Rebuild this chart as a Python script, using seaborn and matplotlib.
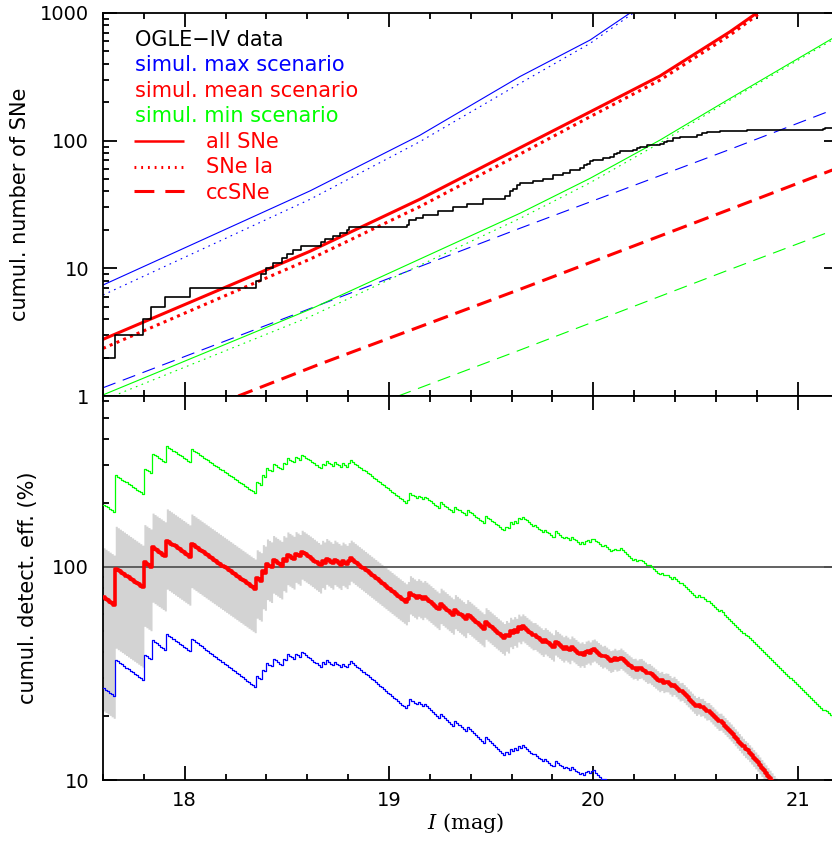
import numpy as np
import pandas as pd
import matplotlib
matplotlib.use("Agg")
import matplotlib.pyplot as plt
import seaborn as sns
from matplotlib.ticker import FixedLocator, NullFormatter, FuncFormatter, MultipleLocator

# ---- OGLE-IV data: cumulative number of SNe (magnitude of each step, count reached) ----
obs_mag = [17.50, 17.600, 17.66, 17.795, 17.835, 17.905, 18.025, 18.348, 18.375, 18.396,
           18.430, 18.478, 18.499, 18.532, 18.568, 18.665, 18.688, 18.727, 18.762, 18.795,
           18.802, 19.086, 19.099, 19.132, 19.168, 19.241, 19.315, 19.380, 19.462, 19.568,
           19.590, 19.609, 19.625, 19.641, 19.706, 19.755, 19.804, 19.853, 19.886, 19.935,
           19.955, 19.967, 19.985, 20.000, 20.049, 20.081, 20.100, 20.114, 20.130, 20.195,
           20.215, 20.228, 20.261, 20.326, 20.345, 20.359, 20.390, 20.424, 20.506, 20.530,
           20.555, 20.620, 20.750, 21.125, 21.135]
obs_n = [1, 2, 3, 4, 5, 6, 7, 8, 9, 10,
         11, 12, 13, 14, 15, 16, 17, 18, 19, 20,
         21, 22, 24, 25, 26, 28, 30, 32, 35, 37,
         40, 42, 45, 47, 48, 50, 54, 56, 59, 61,
         64, 66, 69, 71, 73, 75, 78, 80, 83, 85,
         88, 90, 92, 95, 98, 100, 104, 107, 111, 114,
         117, 120, 121, 123, 125]

# ---- simulated cumulative numbers ----
max_all_mag = [17.60, 18.613, 19.15, 19.641, 19.984, 20.18]
max_all_n = [7.4, 40.4, 110, 318, 614, 1000]
max_ia_mag = [17.60, 18.613, 19.15, 19.641, 19.984, 20.196]
max_ia_n = [6.18, 34.7, 98, 281, 578, 1000]
max_cc_mag = [17.60, 19.641, 20.669, 21.17]
max_cc_n = [1.16, 20.6, 85.5, 174]

mean_all_mag = [17.60, 18.613, 19.15, 19.641, 19.984, 20.326, 20.669, 20.80, 20.90]
mean_all_n = [2.78, 13.6, 34.7, 88, 168, 321, 713, 1000, 1330]
mean_ia_mag = [17.60, 18.613, 19.15, 19.641, 19.984, 20.326, 20.669, 20.816]
mean_ia_n = [2.36, 11.8, 30.4, 78.5, 154, 298, 671, 1000]
mean_cc_mag = [18.262, 18.662, 19.641, 20.669, 21.17]
mean_cc_n = [1.0, 1.78, 6.85, 29, 58.9]

min_all_mag = [17.60, 18.613, 19.641, 19.984, 20.326, 20.669, 21.17]
min_all_n = [1.02, 4.77, 27, 50.7, 101, 214, 632]
min_ia_mag = [17.65, 18.613, 19.641, 19.984, 20.326, 20.669, 21.17]
min_ia_n = [1.0, 4.18, 24.6, 46.8, 96, 208, 614]
min_cc_mag = [19.045, 19.641, 20.669, 21.17]
min_cc_n = [1.0, 2.29, 9.8, 19.7]

x_ticks = [18, 19, 20, 21]
top_yticks = [1, 10, 100, 1000]
bot_yticks = [10, 100]

BLUE, RED, GREEN = "#0000ff", "#ff0000", "#00ff00"
TXT = 15

sns.set_theme(style="ticks")
plt.rcParams.update({
    "font.family": ["DejaVu Sans"],
    "mathtext.fontset": "dejavuserif",
    "axes.edgecolor": "black",
    "axes.linewidth": 1.3,
    "xtick.color": "black",
    "ytick.color": "black",
    "axes.labelcolor": "black",
})

fig = plt.figure(figsize=(8.32, 8.44), dpi=100)
ax1 = fig.add_axes([0.1238, 0.5308, 0.8840, 0.4538])
ax2 = fig.add_axes([0.1238, 0.0758, 0.8840, 0.4550])

XMIN, XMAX = 17.6, 21.2
for ax in (ax1, ax2):
    ax.set_yscale("log")
    ax.set_xlim(XMIN, XMAX)

ax1.set_ylim(1, 1000)
ax2.set_ylim(10, 633)

# ---- top panel: cumulative numbers ----
thin_dot = (0, (1.5, 4.0))
thin_dash = (0, (12, 7))
thick_dot = (0, (1.0, 1.4))
thick_dash = (0, (5.0, 2.6))

curves = [
    (max_all_mag, max_all_n, BLUE, 0.8, "-"),
    (max_ia_mag, max_ia_n, BLUE, 0.8, thin_dot),
    (max_cc_mag, max_cc_n, BLUE, 0.8, thin_dash),
    (min_all_mag, min_all_n, GREEN, 0.8, "-"),
    (min_ia_mag, min_ia_n, GREEN, 0.8, thin_dot),
    (min_cc_mag, min_cc_n, GREEN, 0.8, thin_dash),
    (mean_all_mag, mean_all_n, RED, 2.2, "-"),
    (mean_ia_mag, mean_ia_n, RED, 2.2, thick_dot),
    (mean_cc_mag, mean_cc_n, RED, 2.2, thick_dash),
]
for mag, n, col, lw, ls in curves:
    sns.lineplot(x=mag, y=n, ax=ax1, color=col, lw=lw, linestyle=ls,
                 estimator=None, sort=False)

obs_df = pd.DataFrame({"mag": obs_mag + [XMAX], "n": obs_n + [obs_n[-1]]})
sns.lineplot(data=obs_df, x="mag", y="n", ax=ax1, color="black", lw=1.2,
             drawstyle="steps-post", estimator=None, sort=False)

# legend block
tx = 0.0435
for y, s, c in [(0.9146, "OGLE\u2212IV data", "black"),
                (0.8493, "simul. max scenario", BLUE),
                (0.7807, "simul. mean scenario", RED),
                (0.7146, "simul. min scenario", GREEN)]:
    ax1.text(tx, y, s, color=c, fontsize=TXT, va="baseline", ha="left",
             transform=ax1.transAxes)
for y_line, y_txt, s, ls in [(0.6658, 0.6467, "all SNe", "-"),
                             (0.5987, 0.5815, "SNe Ia", (0, (0.6, 1.6))),
                             (0.5352, 0.5144, "ccSNe", (0, (6.5, 3.6)))]:
    ax1.plot([0.0421, 0.1101], [y_line, y_line], transform=ax1.transAxes,
             color=RED, lw=2.2 if ls != "-" else 1.8, linestyle=ls, solid_capstyle="butt",
             dash_capstyle="butt")
    ax1.text(0.140, y_txt, s, color=RED, fontsize=TXT, va="baseline", ha="left",
             transform=ax1.transAxes)

# ---- bottom panel: cumulative detection efficiency = observed / simulated ----
grid = np.round(np.arange(XMIN, 21.171, 0.01), 3)
idx = np.searchsorted(np.array(obs_mag), grid, side="right") - 1
n_obs = np.array(obs_n, dtype=float)[idx]


def sim_on_grid(mag, n):
    return 10 ** np.interp(grid, mag, np.log10(n), right=np.nan)


eff_max = 100 * n_obs / sim_on_grid(max_all_mag, max_all_n)
eff_mean = 100 * n_obs / sim_on_grid(mean_all_mag, mean_all_n)
eff_min = 100 * n_obs / sim_on_grid(min_all_mag, min_all_n)
err = 1 / np.sqrt(n_obs)

ax2.fill_between(grid, eff_mean * (1 - err), eff_mean * (1 + err), step="post",
                 color="#d3d3d3", lw=0, zorder=1)
ax2.axhline(100, color="#555555", lw=1.3, zorder=2)

eff_df = pd.DataFrame({"mag": grid, "max": eff_max, "mean": eff_mean, "min": eff_min})
for col, c, lw in [("min", GREEN, 0.9), ("max", BLUE, 0.9), ("mean", RED, 2.6)]:
    sub = eff_df[["mag", col]].dropna()
    sns.lineplot(data=sub, x="mag", y=col, ax=ax2, color=c, lw=lw,
                 drawstyle="steps-post", estimator=None, sort=False, zorder=3)

# ---- axes cosmetics ----
fmt = FuncFormatter(lambda v, p: f"{v:g}")
for ax, yt in ((ax1, top_yticks), (ax2, bot_yticks)):
    ax.xaxis.set_major_locator(FixedLocator(x_ticks))
    ax.xaxis.set_minor_locator(MultipleLocator(0.2))
    ax.yaxis.set_major_locator(FixedLocator(yt))
    ax.yaxis.set_minor_locator(FixedLocator(
        [m * 10 ** e for e in range(0, 3) for m in range(2, 10)]))
    ax.yaxis.set_major_formatter(fmt)
    ax.yaxis.set_minor_formatter(NullFormatter())
    ax.tick_params(which="both", direction="in", top=True, right=True,
                   width=1.3, labelsize=14)
    ax.tick_params(which="major", length=10)
    ax.tick_params(which="minor", length=4.6)
    ax.tick_params(axis="y", which="major", pad=10)
    ax.tick_params(axis="x", which="major", pad=8)
    ax.set_xlabel("")
    ax.set_ylabel("")

ax1.tick_params(axis="x", labelbottom=False)

ax1.set_ylabel("cumul. number of SNe", fontsize=TXT)
ax1.yaxis.set_label_coords(-0.0990, 0.5)
ax2.set_ylabel("cumul. detect. eff. (%)", fontsize=TXT)
ax2.yaxis.set_label_coords(-0.0884, 0.5)
ax2.set_xlabel(r"$I$ (mag)", fontsize=TXT, family="DejaVu Serif")
ax2.xaxis.set_label_coords(0.4935, -0.0800)

fig.savefig("out.png", dpi=100)
